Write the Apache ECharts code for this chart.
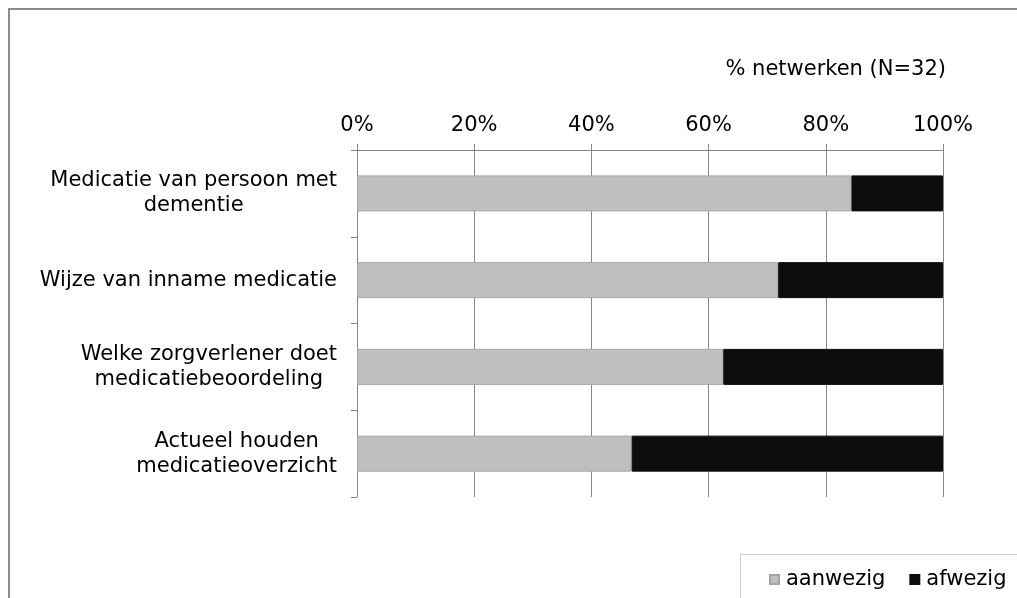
<!DOCTYPE html>
<html>
<head>
<meta charset="utf-8">
<script src="https://cdn.jsdelivr.net/npm/echarts@6/dist/echarts.min.js"></script>
<style>html,body{margin:0;padding:0;background:#fff}#c{width:1017px;height:598px}</style>
</head>
<body>
<div id="c"></div>
<script>
const categories = [
  'Medicatie van persoon met\ndementie',
  'Wijze van inname medicatie',
  'Welke zorgverlener doet\nmedicatiebeoordeling',
  'Actueel houden\nmedicatieoverzicht'
];
const seriesNames = ['aanwezig', 'afwezig'];
const aanwezig = [84.375, 71.875, 62.5, 46.875];
const afwezig = [15.625, 28.125, 37.5, 53.125];
const xTicks = [0, 20, 40, 60, 80, 100];
const axisTitle = '% netwerken (N=32)';

const FONT = 'DejaVu Sans';
const FS = 21;
const chart = echarts.init(document.getElementById('c'), null, {renderer: 'canvas'});
chart.setOption({
  animation: false,
  backgroundColor: '#fff',
  textStyle: {fontFamily: FONT},
  title: {
    text: axisTitle,
    right: 66, top: 54,
    textStyle: {fontFamily: FONT, fontSize: FS, fontWeight: 'normal', color: '#000'}
  },
  graphic: [
    {type: 'rect', shape: {x: 9, y: 9, width: 1200, height: 800}, style: {fill: 'none', stroke: '#8c8c8c', lineWidth: 2}, silent: true},
    {type: 'rect', shape: {x: 740.5, y: 554.5, width: 400, height: 100}, style: {fill: 'none', stroke: '#d0d0d0', lineWidth: 1}, silent: true}
  ],
  legend: {
    left: 764, top: 564,
    itemWidth: 9, itemHeight: 9, itemGap: 24,
    icon: 'rect',
    data: seriesNames,
    textStyle: {fontFamily: FONT, fontSize: FS, color: '#000', padding: [0, 0, 0, 2]}
  },
  grid: {left: 357, right: 74, top: 150, bottom: 101, containLabel: false},
  xAxis: {
    type: 'value', position: 'top', min: 0, max: 100, interval: 20,
    axisLine: {show: true, lineStyle: {color: '#868686', width: 1}},
    axisTick: {show: true, length: 6, lineStyle: {color: '#868686'}},
    splitLine: {show: true, lineStyle: {color: '#868686', width: 1}},
    axisLabel: {margin: 14, fontFamily: FONT, fontSize: FS, color: '#000', formatter: v => xTicks.includes(v) ? v + '%' : ''}
  },
  yAxis: {
    type: 'category', inverse: true, data: categories,
    axisLine: {show: true, lineStyle: {color: '#868686', width: 1}},
    axisTick: {show: true, length: 6, lineStyle: {color: '#868686'}},
    splitLine: {show: false},
    axisLabel: {
      margin: 20, fontFamily: FONT, fontSize: FS, color: '#000', lineHeight: 25,
      formatter: v => v.split('\n').map(s => '{c|' + s + '}').join('\n'),
      rich: {c: {align: 'center', fontFamily: FONT, fontSize: FS, color: '#000', lineHeight: 25}}
    }
  },
  series: [
    {name: seriesNames[0], type: 'bar', stack: 's', data: aanwezig, barWidth: 36,
     itemStyle: {color: '#bfbfbf', borderColor: '#a6a6a6', borderWidth: 1}},
    {name: seriesNames[1], type: 'bar', stack: 's', data: afwezig, barWidth: 36,
     itemStyle: {color: '#0d0d0d', borderColor: '#0d0d0d', borderWidth: 1}}
  ]
});
</script>
</body>
</html>
